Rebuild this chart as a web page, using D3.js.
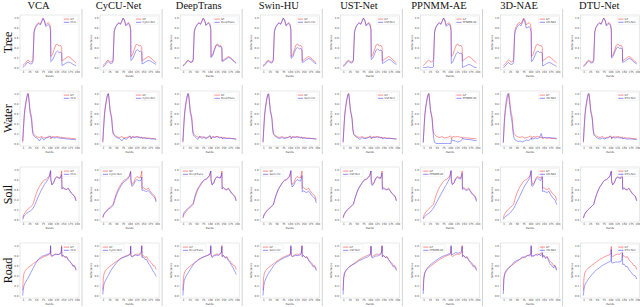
<!DOCTYPE html>
<html>
<head>
<meta charset="utf-8">
<script src="https://d3js.org/d3.v7.min.js"></script>
<style>
	body { margin: 0; background: #fff; }
	.title { font-family: "Liberation Serif", "DejaVu Serif", serif; font-size: 10.5px; fill: #111; }
	.row-label { font-family: "Liberation Serif", "DejaVu Serif", serif; font-size: 12px; fill: #111; }
	.tiny { font-family: "DejaVu Sans", sans-serif; font-size: 2.6px; fill: #444; }
</style>
</head>
<body>
<svg id="grid" width="640" height="307" viewBox="0 0 640 307"></svg>
<script>

const METHODS = ['VCA', 'CyCU-Net', 'DeepTrans', 'Swin-HU', 'UST-Net', 'PPNMM-AE', '3D-NAE', 'DTU-Net'];
const ROWS = ['Tree', 'Water', 'Soil', 'Road'];
const X_TICKS = [1, 25, 50, 75, 100, 125, 150, 175, 200];
const Y_TICKS = [0, 0.2, 0.4, 0.6, 0.8, 1.0];

// band positions of the read-off points, one list per endmember
const TREE_BANDS = [0, 5, 10, 15, 20, 25, 30, 35, 38, 42, 46, 50, 55, 60, 65, 70, 75, 80, 85, 90, 95, 100, 103, 104, 110, 116, 122, 128, 134, 140, 144, 145, 152, 160, 168, 176, 184, 191, 197];
const WATER_BANDS = [0, 3, 6, 9, 12, 15, 18, 21, 24, 27, 30, 33, 36, 39, 42, 48, 55, 62, 70, 78, 86, 94, 100, 103, 104, 110, 118, 126, 134, 140, 144, 145, 152, 160, 170, 180, 190, 197];
const SOIL_BANDS = [0, 4, 10, 16, 22, 28, 34, 38, 44, 50, 56, 62, 68, 74, 80, 86, 92, 98, 103, 104, 108, 114, 120, 126, 132, 138, 142, 144, 145, 150, 156, 162, 168, 174, 180, 186, 192, 197];
const ROAD_BANDS = [0, 2, 5, 10, 15, 20, 30, 40, 50, 60, 70, 80, 90, 98, 102, 103, 104, 108, 114, 120, 126, 132, 138, 142, 144, 145, 150, 156, 162, 168, 174, 180, 186, 190, 194, 197];

// ground truth (red)
const TREE_GT = [0.04, 0.06, 0.09, 0.13, 0.15, 0.12, 0.11, 0.12, 0.16, 0.72, 0.8, 0.84, 0.88, 0.9, 0.87, 0.93, 0.99, 0.95, 0.85, 0.88, 0.9, 0.86, 0.78, 0.22, 0.26, 0.36, 0.45, 0.47, 0.43, 0.44, 0.4, 0.13, 0.16, 0.19, 0.22, 0.2, 0.15, 0.12, 0.09];
const WATER_GT = [0.02, 0.3, 0.55, 0.7, 0.8, 0.9, 0.97, 1.0, 0.85, 0.68, 0.6, 0.52, 0.3, 0.2, 0.18, 0.15, 0.13, 0.12, 0.14, 0.11, 0.12, 0.13, 0.15, 0.14, 0.09, 0.14, 0.13, 0.14, 0.13, 0.12, 0.13, 0.1, 0.12, 0.11, 0.11, 0.1, 0.1, 0.09];
const SOIL_GT = [0.03, 0.1, 0.15, 0.19, 0.22, 0.25, 0.28, 0.3, 0.42, 0.52, 0.6, 0.66, 0.71, 0.76, 0.79, 0.8, 0.83, 0.87, 0.97, 0.8, 0.7, 0.74, 0.82, 0.86, 0.84, 0.83, 0.9, 0.97, 0.62, 0.64, 0.61, 0.6, 0.63, 0.58, 0.53, 0.5, 0.47, 0.38];
const ROAD_GT = [0.1, 0.35, 0.45, 0.5, 0.53, 0.56, 0.6, 0.64, 0.68, 0.72, 0.75, 0.78, 0.8, 0.82, 0.85, 0.98, 0.8, 0.78, 0.8, 0.82, 0.83, 0.82, 0.84, 0.87, 1.0, 0.78, 0.8, 0.76, 0.78, 0.72, 0.68, 0.65, 0.6, 0.6, 0.57, 0.52];

// estimated endmembers (blue), one list per method, in METHODS order
const TREE_EST = [
	[0.0, 0.02, 0.05, 0.09, 0.11, 0.08, 0.07, 0.08, 0.12, 0.70, 0.78, 0.82, 0.86, 0.88, 0.85, 0.91, 0.98, 0.93, 0.82, 0.84, 0.86, 0.82, 0.72, 0.12, 0.15, 0.22, 0.3, 0.33, 0.3, 0.31, 0.28, 0.04, 0.06, 0.09, 0.11, 0.1, 0.07, 0.05, 0.03],
	[0.01, 0.03, 0.06, 0.1, 0.12, 0.09, 0.08, 0.09, 0.13, 0.71, 0.79, 0.83, 0.87, 0.89, 0.86, 0.92, 0.99, 0.94, 0.83, 0.86, 0.88, 0.83, 0.74, 0.14, 0.17, 0.25, 0.33, 0.36, 0.32, 0.33, 0.3, 0.07, 0.09, 0.12, 0.14, 0.13, 0.1, 0.08, 0.06],
	[0.03, 0.05, 0.08, 0.12, 0.14, 0.11, 0.1, 0.11, 0.15, 0.71, 0.79, 0.83, 0.87, 0.89, 0.86, 0.92, 0.98, 0.94, 0.84, 0.87, 0.89, 0.85, 0.76, 0.2, 0.24, 0.34, 0.43, 0.45, 0.41, 0.42, 0.38, 0.12, 0.14, 0.17, 0.2, 0.19, 0.14, 0.11, 0.08],
	[0.02, 0.04, 0.07, 0.11, 0.13, 0.1, 0.09, 0.1, 0.14, 0.71, 0.79, 0.83, 0.87, 0.89, 0.86, 0.92, 0.99, 0.94, 0.83, 0.86, 0.88, 0.84, 0.75, 0.18, 0.21, 0.3, 0.38, 0.4, 0.37, 0.38, 0.35, 0.1, 0.12, 0.15, 0.18, 0.17, 0.12, 0.09, 0.07],
	[0.02, 0.04, 0.07, 0.11, 0.13, 0.1, 0.09, 0.1, 0.14, 0.7, 0.78, 0.83, 0.87, 0.89, 0.86, 0.92, 0.99, 0.94, 0.83, 0.86, 0.88, 0.83, 0.74, 0.16, 0.19, 0.27, 0.35, 0.37, 0.34, 0.35, 0.32, 0.08, 0.1, 0.13, 0.16, 0.15, 0.11, 0.08, 0.06],
	[0.0, 0.0, 0.0, 0.01, 0.01, 0.0, 0.0, 0.0, 0.02, 0.7, 0.79, 0.83, 0.87, 0.89, 0.86, 0.92, 0.99, 0.93, 0.82, 0.85, 0.87, 0.82, 0.72, 0.08, 0.12, 0.2, 0.28, 0.31, 0.28, 0.29, 0.26, 0.0, 0.02, 0.04, 0.06, 0.05, 0.02, 0.0, 0.0],
	[0.0, 0.02, 0.05, 0.08, 0.1, 0.07, 0.06, 0.07, 0.1, 0.66, 0.75, 0.8, 0.84, 0.86, 0.83, 0.89, 0.97, 0.9, 0.79, 0.8, 0.82, 0.78, 0.7, 0.12, 0.15, 0.23, 0.31, 0.33, 0.3, 0.31, 0.28, 0.03, 0.05, 0.08, 0.1, 0.09, 0.06, 0.04, 0.02],
	[0.02, 0.04, 0.07, 0.11, 0.13, 0.1, 0.09, 0.1, 0.14, 0.71, 0.79, 0.83, 0.87, 0.89, 0.86, 0.92, 0.99, 0.94, 0.83, 0.86, 0.88, 0.84, 0.75, 0.19, 0.22, 0.31, 0.39, 0.41, 0.38, 0.39, 0.36, 0.1, 0.12, 0.15, 0.18, 0.17, 0.12, 0.09, 0.07]
];
const WATER_EST = [
	[0.05, 0.35, 0.6, 0.74, 0.85, 0.93, 1.0, 0.98, 0.8, 0.62, 0.55, 0.45, 0.25, 0.17, 0.15, 0.12, 0.1, 0.05, 0.12, 0.07, 0.11, 0.12, 0.14, 0.13, 0.13, 0.12, 0.11, 0.12, 0.11, 0.1, 0.11, 0.11, 0.1, 0.09, 0.09, 0.08, 0.08, 0.07],
	[0.04, 0.33, 0.58, 0.73, 0.84, 0.93, 0.99, 0.99, 0.82, 0.64, 0.56, 0.47, 0.26, 0.18, 0.16, 0.13, 0.11, 0.1, 0.05, 0.11, 0.08, 0.12, 0.14, 0.13, 0.12, 0.13, 0.12, 0.13, 0.12, 0.11, 0.12, 0.11, 0.11, 0.1, 0.1, 0.09, 0.09, 0.08],
	[0.04, 0.36, 0.6, 0.75, 0.86, 0.94, 1.0, 0.97, 0.8, 0.62, 0.55, 0.46, 0.24, 0.16, 0.15, 0.12, 0.08, 0.15, 0.1, 0.14, 0.09, 0.13, 0.16, 0.12, 0.1, 0.13, 0.12, 0.14, 0.11, 0.12, 0.12, 0.1, 0.11, 0.1, 0.1, 0.1, 0.09, 0.08],
	[0.03, 0.34, 0.59, 0.73, 0.84, 0.93, 0.99, 0.98, 0.82, 0.64, 0.57, 0.48, 0.27, 0.18, 0.16, 0.13, 0.11, 0.1, 0.12, 0.1, 0.11, 0.12, 0.14, 0.13, 0.12, 0.13, 0.12, 0.13, 0.12, 0.11, 0.12, 0.11, 0.11, 0.1, 0.1, 0.1, 0.09, 0.09],
	[0.03, 0.33, 0.58, 0.72, 0.83, 0.92, 0.99, 0.99, 0.83, 0.65, 0.58, 0.49, 0.27, 0.18, 0.16, 0.13, 0.11, 0.08, 0.12, 0.1, 0.1, 0.12, 0.13, 0.12, 0.11, 0.12, 0.12, 0.13, 0.12, 0.11, 0.12, 0.1, 0.11, 0.1, 0.1, 0.1, 0.09, 0.09],
	[0.02, 0.32, 0.58, 0.72, 0.83, 0.92, 0.98, 1.0, 0.83, 0.65, 0.57, 0.48, 0.25, 0.1, 0.02, 0.0, 0.0, 0.0, 0.0, 0.0, 0.0, 0.0, 0.0, 0.0, 0.08, 0.06, 0.05, 0.03, 0.04, 0.06, 0.08, 0.1, 0.09, 0.08, 0.08, 0.07, 0.06, 0.06],
	[0.02, 0.4, 0.62, 0.78, 0.9, 0.97, 1.0, 0.9, 0.75, 0.6, 0.5, 0.4, 0.22, 0.12, 0.08, 0.06, 0.04, 0.05, 0.03, 0.05, 0.07, 0.06, 0.09, 0.08, 0.1, 0.09, 0.11, 0.1, 0.12, 0.2, 0.12, 0.11, 0.12, 0.11, 0.12, 0.11, 0.11, 0.1],
	[0.04, 0.35, 0.6, 0.74, 0.85, 0.94, 1.0, 0.97, 0.81, 0.63, 0.56, 0.47, 0.26, 0.17, 0.15, 0.12, 0.1, 0.09, 0.11, 0.09, 0.11, 0.12, 0.14, 0.13, 0.11, 0.12, 0.11, 0.12, 0.11, 0.11, 0.11, 0.1, 0.1, 0.09, 0.09, 0.09, 0.08, 0.08]
];
const SOIL_EST = [
	[0.0, 0.06, 0.1, 0.13, 0.15, 0.17, 0.2, 0.22, 0.28, 0.36, 0.44, 0.51, 0.58, 0.64, 0.7, 0.74, 0.79, 0.85, 0.98, 0.79, 0.69, 0.73, 0.82, 0.85, 0.83, 0.82, 0.86, 0.9, 0.61, 0.63, 0.61, 0.6, 0.62, 0.57, 0.52, 0.49, 0.46, 0.37],
	[0.05, 0.11, 0.15, 0.18, 0.21, 0.23, 0.26, 0.28, 0.38, 0.48, 0.56, 0.62, 0.68, 0.73, 0.76, 0.78, 0.81, 0.86, 0.95, 0.75, 0.66, 0.7, 0.77, 0.8, 0.78, 0.77, 0.8, 0.85, 0.58, 0.59, 0.57, 0.56, 0.58, 0.54, 0.5, 0.47, 0.44, 0.35],
	[0.06, 0.14, 0.18, 0.21, 0.24, 0.27, 0.3, 0.32, 0.46, 0.56, 0.63, 0.68, 0.73, 0.77, 0.8, 0.81, 0.84, 0.88, 0.97, 0.78, 0.69, 0.73, 0.82, 0.85, 0.84, 0.83, 0.88, 0.93, 0.61, 0.63, 0.6, 0.59, 0.62, 0.57, 0.52, 0.49, 0.46, 0.37],
	[0.02, 0.09, 0.14, 0.18, 0.21, 0.24, 0.27, 0.29, 0.41, 0.51, 0.59, 0.65, 0.7, 0.75, 0.78, 0.79, 0.82, 0.86, 0.98, 0.74, 0.65, 0.69, 0.76, 0.8, 0.78, 0.77, 0.82, 0.88, 0.55, 0.57, 0.55, 0.54, 0.57, 0.53, 0.48, 0.45, 0.42, 0.33],
	[0.04, 0.11, 0.16, 0.2, 0.23, 0.26, 0.29, 0.31, 0.43, 0.53, 0.61, 0.67, 0.72, 0.77, 0.8, 0.81, 0.84, 0.88, 0.97, 0.72, 0.68, 0.73, 0.81, 0.85, 0.83, 0.82, 0.87, 0.93, 0.6, 0.62, 0.6, 0.59, 0.61, 0.57, 0.52, 0.49, 0.46, 0.37],
	[0.01, 0.05, 0.08, 0.11, 0.13, 0.16, 0.2, 0.23, 0.29, 0.35, 0.41, 0.47, 0.53, 0.59, 0.65, 0.7, 0.76, 0.83, 0.98, 0.75, 0.7, 0.73, 0.81, 0.84, 0.82, 0.81, 0.86, 0.92, 0.6, 0.62, 0.59, 0.58, 0.61, 0.56, 0.51, 0.48, 0.45, 0.36],
	[0.0, 0.04, 0.07, 0.09, 0.12, 0.15, 0.19, 0.22, 0.28, 0.35, 0.41, 0.48, 0.55, 0.62, 0.68, 0.73, 0.78, 0.84, 0.98, 0.68, 0.66, 0.72, 0.8, 0.83, 0.8, 0.78, 0.84, 0.9, 0.56, 0.57, 0.55, 0.54, 0.57, 0.5, 0.45, 0.42, 0.38, 0.3],
	[0.03, 0.1, 0.15, 0.19, 0.22, 0.25, 0.28, 0.3, 0.42, 0.52, 0.6, 0.66, 0.71, 0.76, 0.79, 0.8, 0.83, 0.87, 0.96, 0.76, 0.69, 0.73, 0.81, 0.85, 0.83, 0.82, 0.88, 0.94, 0.6, 0.62, 0.6, 0.59, 0.62, 0.57, 0.52, 0.49, 0.46, 0.37]
];
const ROAD_EST = [
	[0.0, 0.12, 0.2, 0.26, 0.31, 0.35, 0.46, 0.56, 0.66, 0.74, 0.78, 0.8, 0.82, 0.84, 0.86, 1.0, 0.82, 0.79, 0.81, 0.83, 0.82, 0.82, 0.83, 0.86, 0.97, 0.79, 0.8, 0.77, 0.77, 0.72, 0.68, 0.64, 0.58, 0.6, 0.55, 0.5],
	[0.02, 0.15, 0.24, 0.3, 0.35, 0.4, 0.5, 0.58, 0.65, 0.71, 0.75, 0.77, 0.79, 0.81, 0.84, 0.99, 0.79, 0.77, 0.79, 0.81, 0.8, 0.8, 0.82, 0.85, 0.99, 0.76, 0.77, 0.72, 0.72, 0.65, 0.6, 0.55, 0.48, 0.46, 0.42, 0.38],
	[0.0, 0.18, 0.3, 0.37, 0.42, 0.46, 0.55, 0.63, 0.69, 0.73, 0.76, 0.78, 0.8, 0.82, 0.86, 1.0, 0.82, 0.76, 0.79, 0.8, 0.81, 0.8, 0.83, 0.86, 0.98, 0.78, 0.8, 0.75, 0.76, 0.7, 0.66, 0.6, 0.55, 0.5, 0.46, 0.42],
	[0.0, 0.15, 0.26, 0.33, 0.39, 0.44, 0.52, 0.6, 0.66, 0.7, 0.73, 0.76, 0.78, 0.8, 0.84, 1.0, 0.8, 0.78, 0.79, 0.8, 0.8, 0.8, 0.81, 0.85, 0.99, 0.78, 0.8, 0.76, 0.77, 0.71, 0.66, 0.62, 0.57, 0.58, 0.54, 0.5],
	[0.02, 0.33, 0.44, 0.49, 0.53, 0.56, 0.6, 0.63, 0.66, 0.7, 0.72, 0.75, 0.77, 0.8, 0.84, 0.99, 0.79, 0.75, 0.77, 0.79, 0.79, 0.8, 0.82, 0.85, 0.99, 0.77, 0.8, 0.76, 0.77, 0.72, 0.67, 0.62, 0.57, 0.58, 0.54, 0.5],
	[0.03, 0.3, 0.43, 0.5, 0.55, 0.58, 0.63, 0.67, 0.71, 0.75, 0.78, 0.8, 0.82, 0.84, 0.86, 1.0, 0.82, 0.82, 0.84, 0.86, 0.85, 0.85, 0.87, 0.89, 0.98, 0.78, 0.8, 0.75, 0.76, 0.7, 0.66, 0.62, 0.57, 0.58, 0.54, 0.5],
	[0.03, 0.32, 0.42, 0.47, 0.52, 0.55, 0.6, 0.67, 0.7, 0.72, 0.77, 0.76, 0.8, 0.79, 0.85, 1.0, 0.78, 0.8, 0.79, 0.82, 0.8, 0.83, 0.79, 0.84, 0.98, 0.76, 0.8, 0.74, 0.77, 0.69, 0.62, 0.6, 0.55, 0.6, 0.55, 0.5],
	[0.0, 0.12, 0.2, 0.26, 0.3, 0.34, 0.41, 0.47, 0.52, 0.56, 0.6, 0.63, 0.66, 0.68, 0.7, 0.92, 0.66, 0.65, 0.66, 0.67, 0.67, 0.67, 0.68, 0.72, 0.88, 0.62, 0.63, 0.58, 0.58, 0.52, 0.48, 0.44, 0.4, 0.4, 0.37, 0.33]
];

// where the legend box sits in each panel
const LEGEND_SIDE = [
	['r', 'r', 'r', 'r', 'r', 'r', 'r', 'r'],
	['r', 'r', 'r', 'r', 'r', 'r', 'r', 'r'],
	['r', 'l', 'l', 'l', 'l', 'l', 'r', 'r'],
	['r', 'l', 'l', 'l', 'l', 'l', 'r', 'r']
];

const ROW_DATA = [
	{bands: TREE_BANDS, gt: TREE_GT, est: TREE_EST},
	{bands: WATER_BANDS, gt: WATER_GT, est: WATER_EST},
	{bands: SOIL_BANDS, gt: SOIL_GT, est: SOIL_EST},
	{bands: ROAD_BANDS, gt: ROAD_GT, est: ROAD_EST}
];

const RED = '#ff4646';
const BLUE = '#4646ff';

const svg = d3.select('#grid');

const plot_w = 59;
const plot_h = 55;
const col_left = i => 20 + 80.1 * i;
const row_top = r => 15 + 76 * r;

const x = d3.scaleLinear().domain([-10, 208]).range([0, plot_w]);
const y = d3.scaleLinear().domain([-0.05, 1.05]).range([plot_h, 0]);

const line = d3.line()
	.x(d => x(d.b))
	.y(d => y(d.v));

const to_points = (bands, values) => bands.map((b, k) => ({b: b, v: values[k]}))
	.filter(d => d.v !== undefined);

// column titles
svg.append('g')
	.selectAll('text')
	.data(METHODS)
	.enter()
	.append('text')
	.classed('title', true)
	.attr('x', (d, i) => col_left(i) + plot_w / 2 - 11)
	.attr('y', 9)
	.attr('text-anchor', 'middle')
	.text(d => d);

// row labels
svg.append('g')
	.selectAll('text')
	.data(ROWS)
	.enter()
	.append('text')
	.classed('row-label', true)
	.attr('transform', (d, r) => `translate(12, ${row_top(r) + plot_h / 2}) rotate(-90)`)
	.attr('text-anchor', 'middle')
	.text(d => d);

ROW_DATA.forEach((row, r) => {
	const gt_points = to_points(row.bands, row.gt);

	METHODS.forEach((method, i) => {
		const panel = svg.append('g')
			.attr('transform', `translate(${col_left(i)}, ${row_top(r)})`);

		panel.append('rect')
			.attr('width', plot_w)
			.attr('height', plot_h)
			.attr('fill', '#fff')
			.attr('stroke', '#d4d4d4')
			.attr('stroke-width', 0.5);

		// separator line right of each subfigure
		panel.append('line')
			.attr('x1', plot_w + 3).attr('x2', plot_w + 3)
			.attr('y1', -6).attr('y2', plot_h + 8)
			.attr('stroke', '#c8c8c8')
			.attr('stroke-width', 0.8);

		const x_axis = panel.append('g')
			.attr('transform', `translate(0, ${plot_h})`)
			.call(d3.axisBottom(x).tickValues(X_TICKS).tickSize(1).tickPadding(0.6));
		const y_axis = panel.append('g')
			.call(d3.axisLeft(y).tickValues(Y_TICKS).tickFormat(d3.format('.1f')).tickSize(1).tickPadding(0.6));
		[x_axis, y_axis].forEach(ax => {
			ax.select('.domain').remove();
			ax.selectAll('line').attr('stroke', '#999').attr('stroke-width', 0.3);
			ax.selectAll('text').attr('class', 'tiny').attr('font-size', null).attr('font-family', null);
		});

		panel.append('text')
			.classed('tiny', true)
			.attr('x', plot_w / 2)
			.attr('y', plot_h + 7)
			.attr('text-anchor', 'middle')
			.text('Bands');
		panel.append('text')
			.classed('tiny', true)
			.attr('transform', `translate(-8, ${plot_h / 2}) rotate(-90)`)
			.attr('text-anchor', 'middle')
			.text('Reflectance');

		panel.append('path')
			.datum(gt_points)
			.attr('d', line)
			.attr('fill', 'none')
			.attr('stroke', RED)
			.attr('stroke-opacity', 0.7)
			.attr('stroke-width', 0.8);

		panel.append('path')
			.datum(to_points(row.bands, row.est[i]))
			.attr('d', line)
			.attr('fill', 'none')
			.attr('stroke', BLUE)
			.attr('stroke-opacity', 0.65)
			.attr('stroke-width', 0.8);

		// legend
		const lw = 10 + method.length * 1.6;
		const lx = LEGEND_SIDE[r][i] === 'r' ? plot_w - lw - 1.5 : 1.5;
		const legend = panel.append('g').attr('transform', `translate(${lx}, 1.5)`);
		legend.append('rect')
			.attr('width', lw).attr('height', 8)
			.attr('rx', 0.8)
			.attr('fill', '#fff')
			.attr('fill-opacity', 0.85)
			.attr('stroke', '#ddd')
			.attr('stroke-width', 0.3);
		[['GT', RED], [method, BLUE]].forEach(([label, colour], k) => {
			legend.append('line')
				.attr('x1', 1.2).attr('x2', 6.5)
				.attr('y1', 2.6 + k * 3.2).attr('y2', 2.6 + k * 3.2)
				.attr('stroke', colour)
				.attr('stroke-opacity', 0.7)
				.attr('stroke-width', 0.9);
			legend.append('text')
				.classed('tiny', true)
				.attr('x', 7.6)
				.attr('y', 3.5 + k * 3.2)
				.text(label);
		});
	});
});

</script>
</body>
</html>
